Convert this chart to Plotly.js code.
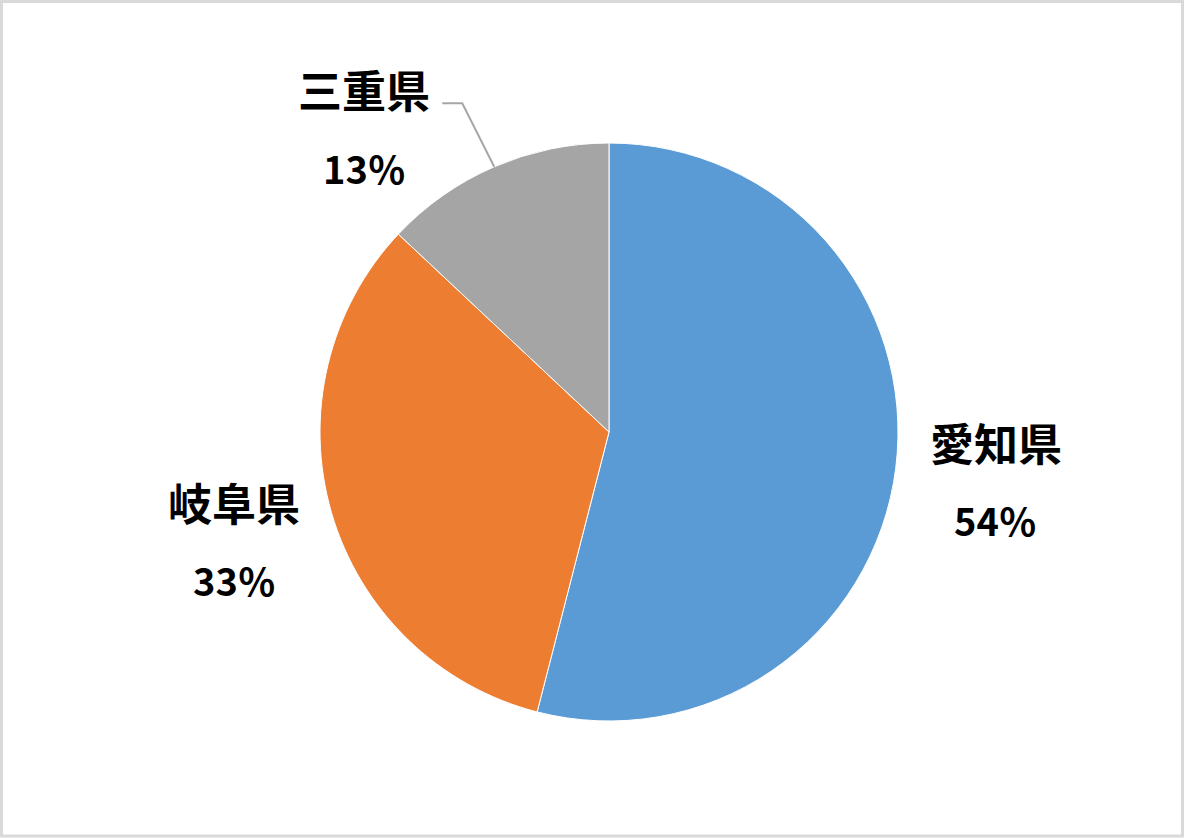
<!DOCTYPE html>
<html>
<head>
<meta charset="utf-8">
<script src="https://cdn.plot.ly/plotly-3.0.1.min.js"></script>
<style>
  body { margin: 0; background: #fff; }
  #chart { width: 1184px; height: 838px; }
</style>
</head>
<body>
<div id="chart"></div>
<script>
var prefectures = ['愛知県', '岐阜県', '三重県'];
var shares = [54, 33, 13];
var pctLabels = ['54％', '33％', '13％'];
var sliceColors = ['#5b9bd5', '#ed7d31', '#a5a5a5'];

var W = 1184, H = 838;
var cx = 609, cy = 432, R = 289;

function px(x) { return x / W; }
function py(y) { return 1 - y / H; }

// midpoint angle of each slice, clockwise from 12 o'clock
function midAngles(vals) {
    var total = vals.reduce((a, b) => a + b, 0);
    var acc = 0;
    return vals.map(v => {
        var mid = (acc + v / 2) / total;
        acc += v;
        return Math.PI / 2 - mid * 2 * Math.PI;
    });
}

var angles = midAngles(shares);
var labelR = 390;
// the small slice label was dragged up-left, as in the original
var angleNudge = [0, 0, 0.27];

var annotations = [];
var shapes = [];
angles.forEach((a, i) => {
    var ang = a + angleNudge[i];
    var lx = cx + labelR * Math.cos(ang);
    var ly = cy - labelR * Math.sin(ang);
    annotations.push({
        x: px(lx), y: py(ly), xref: 'paper', yref: 'paper',
        xanchor: 'center', yanchor: 'middle',
        text: prefectures[i], showarrow: false, yshift: 39,
        font: {family: 'Noto Sans CJK JP', size: 44, color: '#000', weight: 'bold'}
    });
    annotations.push({
        x: px(lx), y: py(ly), xref: 'paper', yref: 'paper',
        xanchor: 'center', yanchor: 'middle',
        text: pctLabels[i], showarrow: false, yshift: -39,
        font: {family: 'Noto Sans CJK JP', size: 38, color: '#000', weight: 'bold'}
    });
    if (angleNudge[i] != 0) {
        var ex = cx + R * Math.cos(a);
        var ey = cy - R * Math.sin(a);
        var ly0 = ly - 25;
        shapes.push({
            type: 'path', xref: 'paper', yref: 'paper',
            path: 'M ' + px(lx + 78) + ' ' + py(ly0) + ' L ' + px(lx + 98) + ' ' + py(ly0) +
                  ' L ' + px(ex) + ' ' + py(ey),
            line: {color: '#a6a6a6', width: 2}
        });
    }
});

shapes.push({
    type: 'rect', xref: 'paper', yref: 'paper',
    x0: px(1.5), x1: px(W - 1.5), y0: py(H - 2), y1: py(1.5),
    line: {color: '#d9d9d9', width: 3}
});

var data = [
    {
        type: 'pie',
        labels: prefectures,
        values: shares,
        sort: false,
        direction: 'clockwise',
        rotation: 0,
        textinfo: 'none',
        hoverinfo: 'none',
        marker: {colors: sliceColors, line: {color: '#ffffff', width: 1}},
        domain: {x: [px(cx - R), px(cx + R)], y: [py(cy + R), py(cy - R)]}
    }
];

var layout = {
    width: W, height: H,
    margin: {l: 0, r: 0, t: 0, b: 0},
    showlegend: false,
    paper_bgcolor: '#ffffff',
    annotations: annotations,
    shapes: shapes
};

Plotly.newPlot('chart', data, layout, {staticPlot: true});
</script>
</body>
</html>
